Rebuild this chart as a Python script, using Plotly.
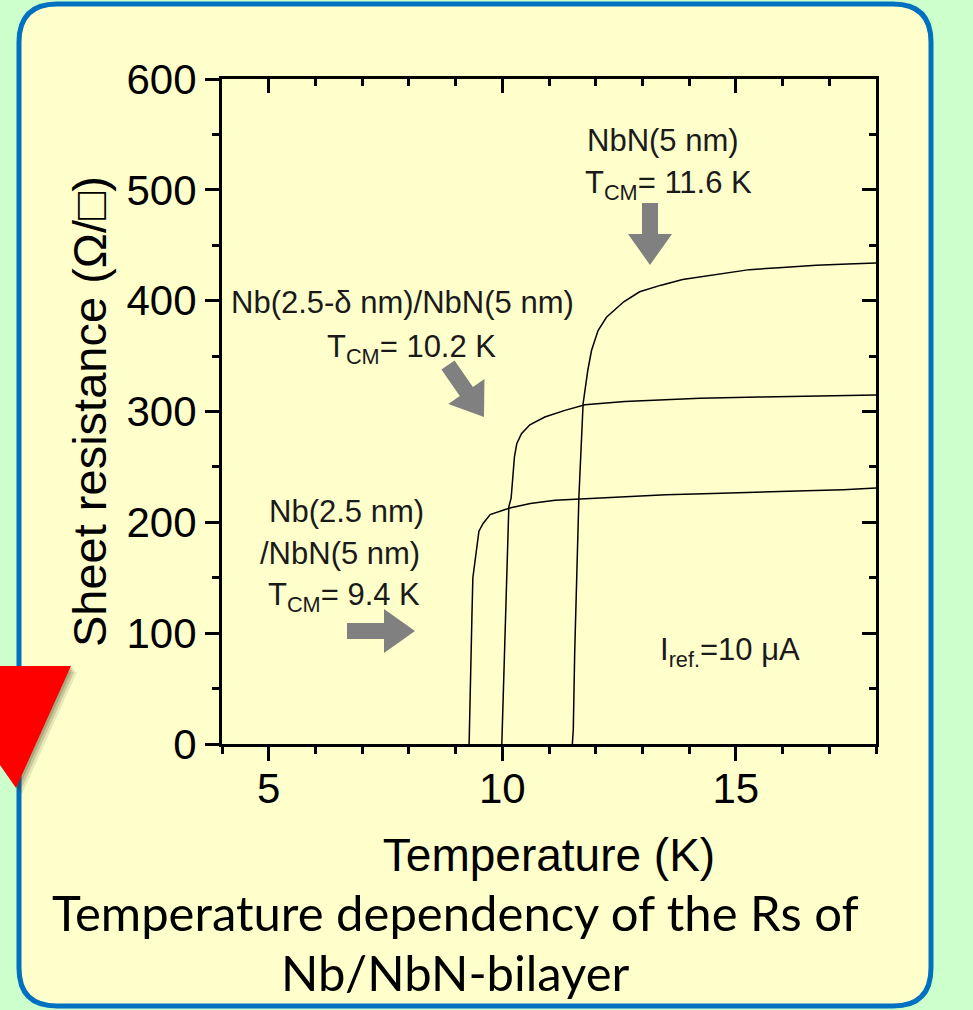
import plotly.graph_objects as go
import math

# ---------------- data ----------------
T_nbn = [11.50, 11.52, 11.55, 11.59, 11.62, 11.64, 11.73, 11.83, 11.91, 12.05, 12.23, 12.48,
         12.60, 12.94, 13.40, 13.86, 14.50, 15.29, 16.00, 16.72, 17.40, 18.00]
R_nbn = [0, 13, 82, 154, 211, 223, 307, 337, 355, 373, 385, 395,
         399, 408, 414, 419, 423, 428, 430, 432, 433, 434]

T_delta = [9.99, 10.04, 10.08, 10.12, 10.14, 10.19, 10.26, 10.31, 10.41, 10.59, 10.91, 11.34,
           11.77, 12.62, 13.50, 14.23, 15.50, 17.00, 18.00]
R_delta = [0, 70, 134, 192, 214, 222, 259, 271, 280, 288, 295, 301,
           306, 309, 311, 312, 313, 314, 315]

T_nb25 = [9.29, 9.31, 9.35, 9.37, 9.43, 9.50, 9.59, 9.74, 10.16, 10.60, 11.13, 12.00,
          12.62, 13.50, 14.50, 15.50, 16.50, 17.30, 18.00]
R_nb25 = [0, 51, 115, 150, 169, 192, 199, 207, 213, 217, 220, 222,
          223, 225, 226, 227.5, 228.5, 229.5, 231]

x_range = [4, 18]
y_range = [0, 600]

label_nbn = ["NbN(5 nm)", "T<sub>CM</sub>= 11.6 K"]
label_delta = ["Nb(2.5-δ nm)/NbN(5 nm)", "T<sub>CM</sub>= 10.2 K"]
label_nb25 = ["Nb(2.5 nm)", "/NbN(5 nm)", "T<sub>CM</sub>= 9.4 K"]
label_iref = "I<sub>ref.</sub>=10 μA"
caption = ["Temperature dependency of the Rs of", "Nb/NbN-bilayer"]

# ---------------- layout geometry (pixels) ----------------
W, H = 973, 1010
PL, PR, PT, PB = 222, 876, 79, 744


def px(x):
    return (x - PL) / (PR - PL)


def py(y):
    return (PB - y) / (PB - PT)


def path_from_px(pts):
    return "M " + " L ".join(f"{px(x):.5f},{py(y):.5f}" for x, y in pts) + " Z"


def block_arrow(tail, tip, shaft_w=16, head_w=44, head_l=31):
    dx, dy = tip[0] - tail[0], tip[1] - tail[1]
    L = math.hypot(dx, dy)
    ux, uy = dx / L, dy / L
    nx, ny = -uy, ux
    bx, by = tip[0] - ux * head_l, tip[1] - uy * head_l
    pts = [
        (tail[0] + nx * shaft_w / 2, tail[1] + ny * shaft_w / 2),
        (bx + nx * shaft_w / 2, by + ny * shaft_w / 2),
        (bx + nx * head_w / 2, by + ny * head_w / 2),
        tip,
        (bx - nx * head_w / 2, by - ny * head_w / 2),
        (bx - nx * shaft_w / 2, by - ny * shaft_w / 2),
        (tail[0] - nx * shaft_w / 2, tail[1] - ny * shaft_w / 2),
    ]
    return path_from_px(pts)


def rounded_rect(x0, y0, x1, y1, r):
    P = lambda x, y: f"{px(x):.5f},{py(y):.5f}"
    return (f"M {P(x0 + r, y0)} L {P(x1 - r, y0)} Q {P(x1, y0)} {P(x1, y0 + r)} "
            f"L {P(x1, y1 - r)} Q {P(x1, y1)} {P(x1 - r, y1)} "
            f"L {P(x0 + r, y1)} Q {P(x0, y1)} {P(x0, y1 - r)} "
            f"L {P(x0, y0 + r)} Q {P(x0, y0)} {P(x0 + r, y0)} Z")


FONT = "Liberation Sans, Arial, sans-serif"
CAPFONT = "Lato, Noto Sans, sans-serif"

fig = go.Figure()
for T, R in [(T_nbn, R_nbn), (T_delta, R_delta), (T_nb25, R_nb25)]:
    fig.add_trace(go.Scatter(x=T, y=R, mode="lines",
                             line=dict(color="black", width=1.5),
                             showlegend=False, hoverinfo="skip"))
# helper trace for mirrored (inside) axes
fig.add_trace(go.Scatter(x=[x_range[0]], y=[y_range[0]], xaxis="x2", yaxis="y2",
                         mode="markers", marker=dict(opacity=0), showlegend=False,
                         hoverinfo="skip"))

shapes = []
shapes.append(dict(type="path", xref="paper", yref="paper", layer="below",
                   path=rounded_rect(19, 4, 931, 1006, 38),
                   fillcolor="#FFFFCC", line=dict(color="#0070C0", width=5)))
for tail, tip in [((650, 203), (650, 265)), ((448, 365), (484, 417)), ((347, 631), (415, 631))]:
    shapes.append(dict(type="path", xref="paper", yref="paper", layer="above",
                       path=block_arrow(tail, tip), fillcolor="#808080",
                       line=dict(width=0)))
# red triangle with soft shadow
for off, alpha in [(6, 0.12), (4, 0.18), (2, 0.22)]:
    shapes.append(dict(type="path", xref="paper", yref="paper", layer="above",
                       path=path_from_px([(-69 + off, 666 + off), (71 + off, 666 + off), (16 + off, 788 + off)]),
                       fillcolor=f"rgba(60,60,30,{alpha})", line=dict(width=0)))
shapes.append(dict(type="path", xref="paper", yref="paper", layer="above",
                   path=path_from_px([(-69, 666), (71, 666), (16, 788)]),
                   fillcolor="#FF0000", line=dict(width=0)))

annotations = []


def add_text(text, x, y, size=31, xanchor="center", family=FONT, color="#1a1a1a"):
    annotations.append(dict(text=text, x=px(x), y=py(y), xref="paper", yref="paper",
                            xanchor=xanchor, yanchor="middle", showarrow=False,
                            font=dict(family=family, size=size, color=color)))


add_text(label_nbn[0], 663, 141)
add_text(label_nbn[1], 583, 185, xanchor="left")
add_text(label_delta[0], 402, 302)
add_text(label_delta[1], 325, 349, xanchor="left")
add_text(label_nb25[0], 426, 511, xanchor="right")
add_text(label_nb25[1], 422, 553, xanchor="right")
add_text(label_nb25[2], 422, 597, xanchor="right")
add_text(label_iref, 658, 652, xanchor="left")
add_text(caption[0], 455, 912, size=49, family=CAPFONT, color="black")
add_text(caption[1], 455, 972, size=49, family=CAPFONT, color="black")

axis_common = dict(range=x_range, showline=True, linecolor="black", linewidth=3,
                   showgrid=False, zeroline=False, tickcolor="black", tickwidth=3, ticklen=14)

fig.update_layout(
    width=W, height=H,
    margin=dict(l=PL, r=W - PR, t=PT, b=H - PB, pad=0),
    paper_bgcolor="#CCFFCC", plot_bgcolor="rgba(0,0,0,0)",
    shapes=shapes, annotations=annotations,
    xaxis=dict(axis_common, range=x_range, dtick=5, ticks="outside",
               tickfont=dict(family=FONT, size=42, color="black"),
               ticklabelstandoff=-8,
               minor=dict(dtick=1, ticks="outside", ticklen=7, tickwidth=3, tickcolor="black"),
               title=dict(text="Temperature (K)", font=dict(family=FONT, size=46, color="black"),
                          standoff=28)),
    yaxis=dict(axis_common, range=y_range, dtick=100, ticks="outside",
               tickfont=dict(family=FONT, size=42, color="black"),
               minor=dict(dtick=50, ticks="outside", ticklen=7, tickwidth=3, tickcolor="black"),
               title=dict(text="Sheet resistance (Ω/□)", font=dict(family=FONT, size=47, color="black"),
                          standoff=6)),
    xaxis2=dict(axis_common, range=x_range, dtick=5, ticks="inside", overlaying="x", side="top",
                anchor="y2", showticklabels=False,
                minor=dict(dtick=1, ticks="inside", ticklen=7, tickwidth=3, tickcolor="black")),
    yaxis2=dict(axis_common, range=y_range, dtick=100, ticks="inside", overlaying="y", side="right",
                anchor="x2", showticklabels=False,
                minor=dict(dtick=50, ticks="inside", ticklen=7, tickwidth=3, tickcolor="black")),
)

fig.write_html("out.html", config={"displayModeBar": False},
               post_script="document.body.style.margin='0';document.body.style.overflow='hidden';")
